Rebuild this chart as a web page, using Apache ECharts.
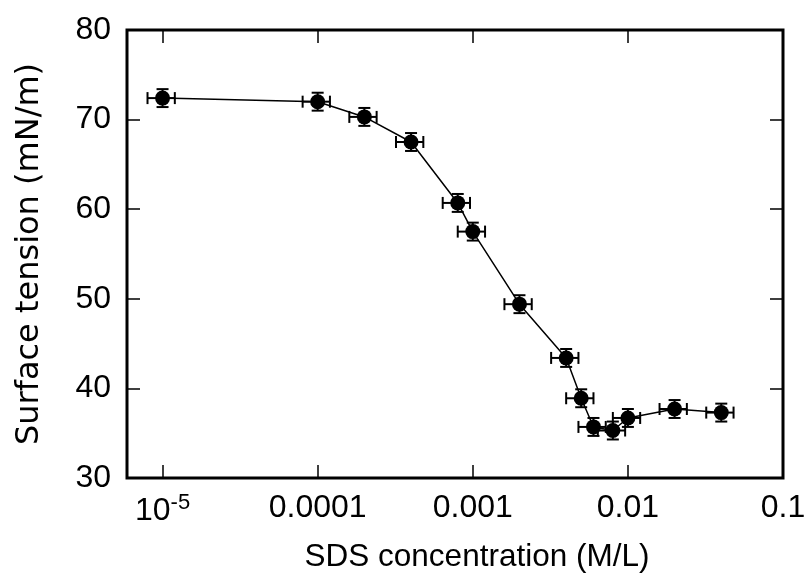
<!DOCTYPE html>
<html>
<head>
<meta charset="utf-8">
<script src="https://cdn.jsdelivr.net/npm/echarts@6/dist/echarts.min.js"></script>
<style>
html,body{margin:0;padding:0;background:#fff;}
#chart{width:804px;height:575px;}
</style>
</head>
<body>
<div id="chart"></div>
<script>
// SDS concentration (M/L)
var concentration = [1e-5, 1e-4, 2e-4, 4e-4, 8e-4, 1e-3, 2e-3, 4e-3, 5e-3, 6e-3, 8e-3, 1e-2, 2e-2, 4e-2];
// Surface tension (mN/m)
var tension = [72.4, 72.0, 70.3, 67.5, 60.7, 57.5, 49.4, 43.4, 38.9, 35.7, 35.3, 36.7, 37.7, 37.3];
// error in surface tension (mN/m)
var tensionErr = [1.0, 1.0, 1.0, 1.0, 1.0, 1.0, 1.0, 1.0, 1.0, 1.0, 1.0, 1.0, 1.0, 1.0];
// relative error in concentration
var concRelErr = [0.2, 0.2, 0.2, 0.2, 0.2, 0.2, 0.2, 0.2, 0.2, 0.2, 0.2, 0.2, 0.2, 0.2];
// axis ticks
var yTicks = [30, 40, 50, 60, 70, 80];
var xTickLabels = {'-5': '10{sup|-5}', '-4': '0.0001', '-3': '0.001', '-2': '0.01', '-1': '0.1'};

var FONT = 'Liberation Sans, Arial, sans-serif';

var points = concentration.map(function (c, i) { return [c, tension[i]]; });
var errData = concentration.map(function (c, i) {
  return [c, tension[i], c * (1 - concRelErr[i]), c * (1 + concRelErr[i]), tension[i] - tensionErr[i], tension[i] + tensionErr[i]];
});

var chart = echarts.init(document.getElementById('chart'));
var tickStyle = { show: true, inside: true, length: 13, lineStyle: { color: '#000', width: 1.5 } };

chart.setOption({
  animation: false,
  backgroundColor: '#fff',
  grid: { left: 127, right: 21, top: 30, bottom: 97, outerBoundsMode: 'none', containLabel: false, show: true, borderColor: '#000', borderWidth: 3, backgroundColor: 'transparent' },
  xAxis: [{
    type: 'log', logBase: 10, min: 5.9e-6, max: 0.1, position: 'bottom',
    axisLine: { show: false }, splitLine: { show: false },
    axisTick: tickStyle,
    axisLabel: {
      showMinLabel: false, margin: 14,
      fontFamily: FONT, fontSize: 32, color: '#000',
      formatter: function (v) { var k = Math.round(Math.log10(v)); return xTickLabels[String(k)] || ''; },
      rich: { sup: { fontFamily: FONT, fontSize: 22, color: '#000', verticalAlign: 'top', padding: [0, 0, 16, 0] } }
    },
    name: 'SDS concentration (M/L)', nameLocation: 'middle', nameGap: 63, nameMoveOverlap: false,
    nameTextStyle: { fontFamily: FONT, fontSize: 31.5, color: '#000', padding: [0, 0, 0, 44] }
  }, {
    type: 'log', logBase: 10, min: 5.9e-6, max: 0.1, position: 'top',
    axisLine: { show: false }, splitLine: { show: false },
    axisTick: tickStyle, axisLabel: { show: false }
  }],
  yAxis: [{
    type: 'value', min: 30, max: 80, interval: 10, position: 'left',
    axisLine: { show: false }, splitLine: { show: false },
    axisTick: tickStyle,
    axisLabel: { margin: 16, fontFamily: FONT, fontSize: 32, color: '#000' },
    name: 'Surface tension (mN/m)', nameLocation: 'middle', nameGap: 81, nameMoveOverlap: false,
    nameTextStyle: { fontFamily: 'DejaVu Sans, sans-serif', fontSize: 32, color: '#000' }
  }, {
    type: 'value', min: 30, max: 80, interval: 10, position: 'right',
    axisLine: { show: false }, splitLine: { show: false },
    axisTick: tickStyle, axisLabel: { show: false }
  }],
  series: [{
    type: 'custom', xAxisIndex: 0, yAxisIndex: 0,
    data: errData,
    encode: { x: 0, y: 1 },
    renderItem: function (params, api) {
      var cx = api.value(0), cy = api.value(1);
      var xl = api.coord([api.value(2), cy]);
      var xr = api.coord([api.value(3), cy]);
      var yl = api.coord([cx, api.value(4)]);
      var yh = api.coord([cx, api.value(5)]);
      var cap = 6;
      var st = { stroke: '#000', lineWidth: 2 };
      return {
        type: 'group',
        children: [
          { type: 'line', shape: { x1: xl[0], y1: xl[1], x2: xr[0], y2: xr[1] }, style: st },
          { type: 'line', shape: { x1: xl[0], y1: xl[1] - cap, x2: xl[0], y2: xl[1] + cap }, style: st },
          { type: 'line', shape: { x1: xr[0], y1: xr[1] - cap, x2: xr[0], y2: xr[1] + cap }, style: st },
          { type: 'line', shape: { x1: yl[0], y1: yl[1], x2: yh[0], y2: yh[1] }, style: st },
          { type: 'line', shape: { x1: yl[0] - cap, y1: yl[1], x2: yl[0] + cap, y2: yl[1] }, style: st },
          { type: 'line', shape: { x1: yh[0] - cap, y1: yh[1], x2: yh[0] + cap, y2: yh[1] }, style: st }
        ]
      };
    },
    z: 2
  }, {
    type: 'line', xAxisIndex: 0, yAxisIndex: 0,
    data: points,
    symbol: 'circle', symbolSize: 15,
    itemStyle: { color: '#000' },
    lineStyle: { color: '#000', width: 1.5 },
    z: 3
  }]
});
</script>
</body>
</html>
